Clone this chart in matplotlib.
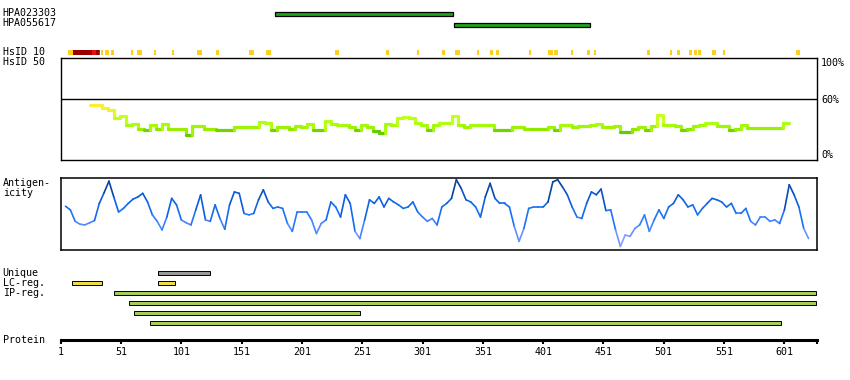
import numpy as np
import matplotlib
matplotlib.use("Agg")
import matplotlib.pyplot as plt
from matplotlib.collections import LineCollection
from matplotlib.colors import LinearSegmentedColormap

plt.rcParams['font.family'] = 'DejaVu Sans Mono'
plt.rcParams['font.size'] = 7.2

W, H = 850, 380
X0, X1 = 60.7, 817.0
L = 628  # protein length

# antibodies (residue ranges)
hpa_names = ['HPA023303', 'HPA055617']
hpa_start = [179, 327]
hpa_end = [326, 440]

# HsID 10 hits
hs_yellow_start = [7, 34, 38, 43, 59, 64, 78, 93, 114, 130, 157, 171, 228, 271, 296, 317, 328,
                   346, 357, 362, 389, 405, 410, 424, 437, 443, 487, 506, 512, 522, 526, 529,
                   541, 550, 611]
hs_yellow_len = [4, 2, 3, 2, 2, 4, 2, 2, 4, 2, 4, 4, 4, 2.5, 2, 3, 4,
                 2, 2.5, 2.5, 2, 4, 3, 2, 3, 2, 2.5, 2, 2.5, 2.5, 2.5, 3,
                 3, 2, 2.5]
hs_dark_start = [11, 30]
hs_dark_len = [16, 3]
hs_red_start = [27, 33]
hs_red_len = [3, 0.8]

# HsID 50 similarity (%), every 5 residues from 25
sim_first, sim_step = 25, 5
sim_vals = [54, 54, 51, 49, 41, 43, 35, 36, 31, 29.5, 34.5, 30.5, 35.5, 31, 31, 31, 25, 33.5,
            33.5, 31, 31, 29.5, 29.5, 29.5, 32.5, 32.5, 33, 33, 37.5, 37, 29.5, 32.5, 32.5,
            30.5, 33.5, 33,
            35.5, 29.5, 29.5, 39, 35.5, 35, 34.5, 32.5, 29.5, 34.5, 32.5, 28.5, 26.5, 35.5,
            34.5, 41, 42, 41, 36.5, 35, 29.5, 34.5, 36.5, 36.5, 43, 34.5, 32.5, 35, 35, 35,
            34.5, 29.5, 29.5, 29.5, 32.5, 32.5, 31, 30.5, 30.5, 30.5, 32.5, 29.5, 34.5, 35,
            32.5, 33.5, 33.5, 34.5, 35.5, 33,
            32.5, 33.5, 28, 28, 30.5, 32.5, 29.5, 33.5, 44, 35, 35, 33.5, 29.5, 30.5, 33.5,
            35, 36.5, 36.5, 33.5, 33.5, 29.5, 31, 34.5, 32, 32, 32, 32, 32, 32, 36.5]

# antigenicity (relative, 0-100), every 4 residues from 5
ant_first, ant_step = 5, 4
ant_vals = [61, 56, 40, 36, 35, 38, 41, 65, 80, 96, 74, 53, 58, 65, 71, 74, 79, 67, 49, 40,
            28, 46, 72, 63, 42, 38, 35, 56, 77, 42, 40, 63, 44, 29, 63, 81, 79, 51, 49, 51,
            70, 84, 67, 58, 60, 58, 37, 26, 53, 53,
            53, 42, 23, 37, 42, 67, 60, 46, 77, 65, 26, 16, 42, 70, 65, 74, 60, 72, 67, 63,
            58, 60, 67, 53, 46, 40, 44, 35, 60, 65, 72, 98, 86, 70, 67, 60, 46, 74, 93, 72,
            65, 65, 60, 33, 12, 30, 58, 60, 60, 60, 67, 95, 98, 88, 77, 60, 46, 44, 65, 81,
            77, 85,
            55, 56, 28, 5, 21, 19, 30, 35, 49, 26, 42, 56, 44, 60, 65, 77, 70, 60, 63, 49,
            58, 65, 72, 70, 67, 60, 65, 51, 51, 58, 40, 35, 46, 46, 40, 42, 37, 56, 91, 77,
            60, 30, 16]

# annotation bars
unique_start, unique_end = [82], [125]
lc_start, lc_end = [10, 82], [35, 96]
ip_start = [45, 58, 62, 75]
ip_end = [627, 627, 249, 598]

ticks = [1, 51, 101, 151, 201, 251, 301, 351, 401, 451, 501, 551, 601]


def add_ax(y0, y1):
    return fig.add_axes([X0 / W, 1 - y1 / H, (X1 - X0) / W, (y1 - y0) / H])


def label(px, py, s, **kw):
    fig.text(px / W, 1 - py / H, s, va='center', ha='left', **kw)


def colored_line(ax, xs, ys, cmap, vmin, vmax, lw):
    pts = np.column_stack([xs, ys])
    segs = np.stack([pts[:-1], pts[1:]], axis=1)
    cval = (np.maximum(ys[:-1], ys[1:]) - vmin) / (vmax - vmin)
    lc = LineCollection(segs, colors=cmap(np.clip(cval, 0, 1)), linewidths=lw,
                        capstyle='round', joinstyle='round')
    ax.add_collection(lc)


fig = plt.figure(figsize=(8.5, 3.8), dpi=100)

# ---- top: antibodies + HsID 10 ----
ax_top = add_ax(0, 57)
ax_top.set_xlim(1, L)
ax_top.set_ylim(57, 0)
ax_top.axis('off')
for i, (s, e) in enumerate(zip(hpa_start, hpa_end)):
    ax_top.barh(13.5 + 11 * i, e - s, left=s, height=4, color='#1ea51e',
                edgecolor='black', linewidth=0.9)
ax_top.broken_barh(list(zip(hs_yellow_start, hs_yellow_len)), (50, 5), facecolors='#ffcc22')
ax_top.broken_barh(list(zip(hs_dark_start, hs_dark_len)), (50, 5), facecolors='#990000')
ax_top.broken_barh(list(zip(hs_red_start, hs_red_len)), (50, 5), facecolors='#e81010')

label(2.7, 12.7, hpa_names[0])
label(2.7, 22.7, hpa_names[1])
label(2.7, 52, 'HsID 10')
label(2.7, 62, 'HsID 50')

# ---- similarity panel ----
ax_sim = add_ax(58.3, 160.3)
ax_sim.set_xlim(1, L)
ax_sim.set_ylim(0, 100)
ax_sim.axhline(60, color='black', lw=1.0)
sim_cmap = LinearSegmentedColormap.from_list(
    'sim', [(0, '#55bb00'), (0.29, '#66cc00'), (0.31, '#99ee00'), (0.36, '#aaff11'),
            (0.45, '#ccff22'), (0.52, '#ffee33'), (1, '#ffee33')])
sx = np.repeat(sim_first + sim_step * np.arange(len(sim_vals) + 1), 2)[1:-1]
sy = np.repeat(np.array(sim_vals, float), 2)
colored_line(ax_sim, sx, sy, sim_cmap, 0, 100, 2.3)
ax_sim.set_xticks([])
ax_sim.yaxis.tick_right()
ax_sim.set_yticks([0, 60, 100])
ax_sim.set_yticklabels(['0%', '60%', '100%'])
ax_sim.tick_params(axis='y', length=0, pad=3)
for t in ax_sim.get_yticklabels():
    if t.get_text() == '100%':
        t.set_va('top')
    if t.get_text() == '0%':
        t.set_va('bottom')
for sp in ax_sim.spines.values():
    sp.set_linewidth(1.0)

# ---- antigenicity panel ----
ax_ant = add_ax(178.3, 250)
ax_ant.set_xlim(1, L)
ax_ant.set_ylim(0, 100)
ant_cmap = LinearSegmentedColormap.from_list(
    'ant', [(0, '#b4a8ff'), (0.2, '#8c9cff'), (0.4, '#4a86ff'), (0.6, '#1670f5'),
            (0.8, '#0a5ad8'), (1, '#0a3f96')])
ax_x = ant_first + ant_step * np.arange(len(ant_vals))
colored_line(ax_ant, ax_x.astype(float), np.array(ant_vals, float), ant_cmap, 0, 100, 1.2)
ax_ant.set_xticks([])
ax_ant.set_yticks([])
for sp in ax_ant.spines.values():
    sp.set_linewidth(1.1)
label(2.7, 183, 'Antigen-')
label(2.7, 193, 'icity')

# ---- annotation bars ----
ax_bot = add_ax(262, 330)
ax_bot.set_xlim(1, L)
ax_bot.set_ylim(330, 262)
ax_bot.axis('off')
for s, e in zip(unique_start, unique_end):
    ax_bot.barh(272.7, e - s, left=s, height=3.6, color='#999999', edgecolor='black', linewidth=0.7)
for s, e in zip(lc_start, lc_end):
    ax_bot.barh(282.7, e - s, left=s, height=3.6, color='#eedd44', edgecolor='black', linewidth=0.7)
for i, (s, e) in enumerate(zip(ip_start, ip_end)):
    ax_bot.barh(292.7 + 10 * i, e - s, left=s, height=3.6, color='#a6cc5a',
                edgecolor='black', linewidth=0.7)
label(2.7, 272.5, 'Unique')
label(2.7, 283, 'LC-reg.')
label(2.7, 293, 'IP-reg.')

# ---- protein axis ----
ax_p = fig.add_axes([X0 / W, 1 - 340 / H, (X1 - X0) / W, 0.0001])
ax_p.set_xlim(1, L)
ax_p.set_yticks([])
for k in ['top', 'left', 'right']:
    ax_p.spines[k].set_visible(False)
ax_p.spines['bottom'].set_linewidth(2.2)
ax_p.set_xticks(ticks + [L])
ax_p.set_xticklabels([str(t) for t in ticks] + [''])
ax_p.tick_params(axis='x', direction='out', length=2.8, width=1.5, pad=2)
label(2.7, 340, 'Protein')

fig.savefig('out.png', dpi=100)
